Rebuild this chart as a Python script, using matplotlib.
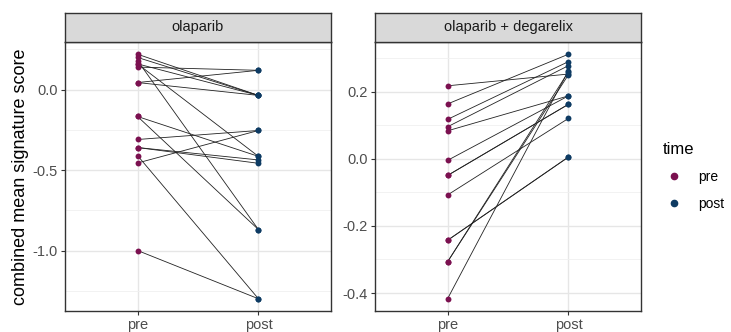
import numpy as np
import matplotlib.pyplot as plt

plt.rcParams['font.family'] = ['Liberation Sans', 'DejaVu Sans']

# paired scores (pre -> post), one entry per line
times = ['pre', 'post']
panels = ['olaparib', 'olaparib + degarelix']

ola_pre = [0.22, 0.20, 0.18, 0.16, 0.16, 0.14, 0.044, 0.044,
           -0.167, -0.167, -0.31, -0.36, -0.36, -0.41, -0.456, -1.0]
ola_post = [-0.036, -0.036, -0.87, -0.415, -0.036, 0.12, 0.12, -0.036,
            -0.415, -0.87, -0.254, -0.437, -0.458, -1.30, -0.254, -1.30]

deg_pre = [0.217, 0.163, 0.117, 0.095, 0.083, -0.005, -0.05, -0.05,
           -0.108, -0.243, -0.243, -0.307, -0.307, -0.417]
deg_post = [0.252, 0.311, 0.289, 0.277, 0.187, 0.187, 0.162, 0.162,
            0.12, 0.005, 0.005, 0.259, 0.25, 0.262]

pre_col = '#7b1150'
post_col = '#0e3b63'

fig = plt.figure(figsize=(7.31, 3.32), dpi=100)

W, H = 731, 332
def frac(x0, y0, x1, y1):
    return [x0 / W, 1 - y1 / H, (x1 - x0) / W, (y1 - y0) / H]

data = [(ola_pre, ola_post, [0.0, -0.5, -1.0], [0.25, -0.25, -0.75, -1.25]),
        (deg_pre, deg_post, [0.2, 0.0, -0.2, -0.4], [0.3, 0.1, -0.1, -0.3])]
lefts = [65, 375]

for (pre, post, major, minor), x0, title in zip(data, lefts, panels):
    ax = fig.add_axes(frac(x0, 42, x0 + 266, 311))
    for a, b in zip(pre, post):
        ax.plot([0, 1], [a, b], color='#222222', lw=0.6, zorder=2)
    ax.scatter(np.zeros(len(pre)), pre, s=18, color=pre_col, zorder=3, linewidths=0)
    ax.scatter(np.ones(len(post)), post, s=18, color=post_col, zorder=3, linewidths=0)
    lo = min(min(pre), min(post))
    hi = max(max(pre), max(post))
    pad = (hi - lo) * 0.05
    ax.set_ylim(lo - pad, hi + pad)
    ax.set_xlim(-0.6, 1.6)
    ax.set_xticks([0, 1])
    ax.set_xticklabels(times)
    ax.set_yticks(major)
    ax.set_yticklabels([f'{v:.1f}' for v in major])
    ax.set_yticks(minor, minor=True)
    ax.grid(True, which='major', color='#e6e6e6', lw=1.0, zorder=0)
    ax.grid(True, which='minor', axis='y', color='#f0f0f0', lw=0.6, zorder=0)
    ax.set_axisbelow(True)
    ax.tick_params(axis='both', which='major', length=3, width=0.8, color='#333333',
                   labelcolor='#4d4d4d', labelsize=10.5, pad=2)
    ax.tick_params(axis='y', which='minor', length=0)
    for sp in ax.spines.values():
        sp.set_color('#333333')
        sp.set_linewidth(1.0)

    strip = fig.add_axes(frac(x0, 13, x0 + 266, 42))
    strip.set_facecolor('#d9d9d9')
    strip.set_xticks([])
    strip.set_yticks([])
    for sp in strip.spines.values():
        sp.set_color('#333333')
        sp.set_linewidth(1.0)
    strip.text(0.5, 0.5, title, ha='center', va='center', fontsize=10.5, color='#1a1a1a',
               transform=strip.transAxes)

    if x0 == 65:
        ax.set_ylabel('combined mean signature score', fontsize=13, color='black', labelpad=3)

handles = [plt.Line2D([], [], marker='o', ls='', color=pre_col, markersize=4.5),
           plt.Line2D([], [], marker='o', ls='', color=post_col, markersize=4.5)]
leg = fig.legend(handles, times, title='time', loc='upper left',
                 bbox_to_anchor=(650 / W, 1 - 129 / H), frameon=False,
                 fontsize=10, title_fontsize=12, handletextpad=1.0,
                 labelspacing=0.95, handlelength=1.6)
leg._legend_box.align = 'left'

fig.savefig('out.png', dpi=100)
